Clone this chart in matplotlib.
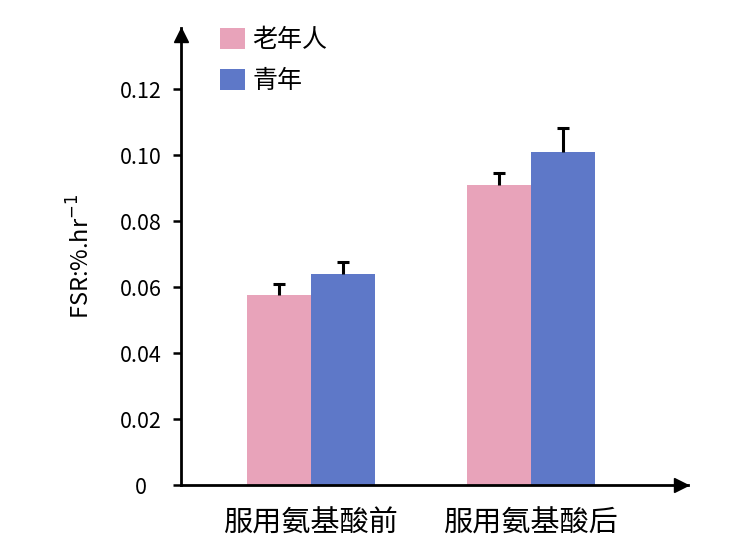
import numpy as np
import matplotlib
matplotlib.use("Agg")
import matplotlib.pyplot as plt

plt.rcParams['font.family'] = ['Noto Sans CJK SC', 'DejaVu Sans']

# data
groups = ["服用氨基酸前", "服用氨基酸后"]
series = ["老年人", "青年"]
old_vals = np.array([0.0575, 0.091])
young_vals = np.array([0.064, 0.101])
old_err = np.array([0.0035, 0.0035])
young_err = np.array([0.0035, 0.0072])
yticks = [0, 0.02, 0.04, 0.06, 0.08, 0.10, 0.12]
ytick_labels = ["0", "0.02", "0.04", "0.06", "0.08", "0.10", "0.12"]

pink = "#E8A3BA"
blue = "#5E78C8"

fig = plt.figure(figsize=(7.5, 5.58), dpi=100)
ax = fig.add_axes([0.2413, 0.1308, 0.676, 0.819])

x = np.arange(len(groups))
w = 0.291
cap = 0.027
for xs, vals, err, col, lab in [(x - w / 2, old_vals, old_err, pink, series[0]),
                                (x + w / 2, young_vals, young_err, blue, series[1])]:
    ax.bar(xs, vals, w, color=col, label=lab, zorder=2)
    # upper error bar only
    ax.vlines(xs, vals, vals + err, color="black", lw=2.2, zorder=3)
    ax.hlines(vals + err, xs - cap, xs + cap, color="black", lw=2.2, zorder=3)

ax.set_xlim(-0.591, 1.714)
ax.set_ylim(0, 0.1385)
ax.set_yticks(yticks)
ax.set_yticklabels(ytick_labels, fontsize=15.5)
for t in ax.get_yticklabels():
    t.set_ha("center")
ax.set_xticks(x)
ax.set_xticklabels(groups, fontsize=21)
ax.tick_params(axis="x", length=0, pad=17)
ax.tick_params(axis="y", length=6, width=1.8, pad=23)

for s in ["top", "right"]:
    ax.spines[s].set_visible(False)
for s in ["left", "bottom"]:
    ax.spines[s].set_linewidth(2)

# arrow heads (tip at the end of each axis)
ax.plot(0.986, 0, ">k", transform=ax.transAxes, clip_on=False, markersize=10)
ax.plot(0, 0.985, "^k", transform=ax.transAxes, clip_on=False, markersize=10)

ax.set_ylabel("FSR:%.hr$^{-1}$", fontsize=17, labelpad=18)

fig.legend(loc="upper left", bbox_to_anchor=(0.2933, 0.9516), frameon=False, fontsize=18,
           borderpad=0, borderaxespad=0,
           handlelength=1.0, handleheight=0.92, labelspacing=0.6, handletextpad=0.3)

fig.savefig("out.png", dpi=100)
